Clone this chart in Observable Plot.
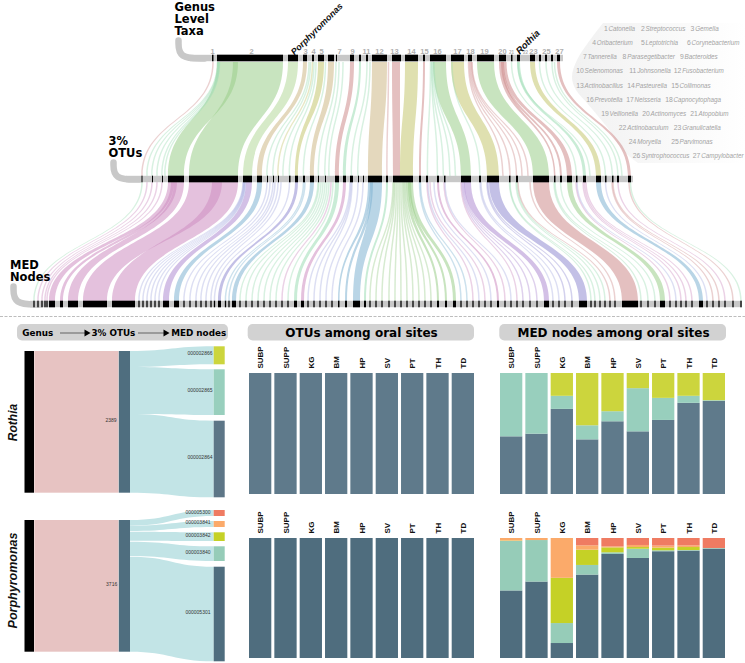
<!DOCTYPE html>
<html><head><meta charset="utf-8">
<style>html,body{margin:0;padding:0;background:#fff}#c{position:relative;width:745px;height:663px;overflow:hidden}</style>
<script src="https://cdn.jsdelivr.net/npm/d3@7"></script>
<script src="https://cdn.jsdelivr.net/npm/@observablehq/plot@0.6"></script>
</head><body><div id="c"></div>
<script>
// ---- oral-site composition (percent of each site) ----
const sites = ["SUBP","SUPP","KG","BM","HP","SV","PT","TH","TD"];
const rothiaNodes = ["000002864","000002865","000002866"];
const rothia864 = [47.8,50,70.4,45.3,60.2,51.9,61.3,75.4,77];
const rothia865 = [52.2,50,10.8,11.6,8.3,35.6,18.2,5.8,0.6];
const rothia866 = [0,0,18.8,43.1,31.5,12.5,20.5,18.8,22.4];
const porphNodes = ["000005301","000003840","000003842","000003841","000005300"];
const porph301 = [56.4,63.8,12.7,69.6,86.7,83.4,89,89.5,91.2];
const porph840 = [41.2,34.5,16.6,8,1.4,7.7,0.8,0.5,0.5];
const porph842 = [0.3,0,37.6,12.7,4.1,1.4,2.2,2.5,0];
const porph841 = [2.1,1.7,33.1,3.6,0.8,1.7,1.7,1.4,0];
const porph300 = [0,0,0,6.1,7,5.8,6.3,6.1,8.3];

// ---- taxa key ----
const taxa = ["Catonella","Streptococcus","Gemella","Oribacterium","Leptotrichia","Corynebacterium","Tannerella","Parasegetibacter","Bacteroides","Selenomonas","Johnsonella","Fusobacterium","Actinobacillus","Pasteurella","Collimonas","Prevotella","Neisseria","Capnocytophaga","Veillonella","Actinomyces","Atopobium","Actinobaculum","Granulicatella","Moryella","Parvimonas","Syntrophococcus","Campylobacter"];
const taxaCol = [608,645,694.7,596.3,645,691,587,626.7,684,584,636.7,681.7,584,635,679,594,634,673,609,650,698,626.7,681.7,636.7,679,640.7,700.7];
const taxaRow = [28,28,28,42,42,42,56,56,56,70,70,70,85,85,85,99,99,99,113,113,113,127,127,141,141,155,155];
const genusLabels = [1,2,3,4,5,7,9,11,12,13,14,15,16,17,18,19,20,23,25,27];
const genusLabelAt = [212,251,305,313,321,339,352,366,379,394,411,424,437,457,470,484,502,533,546,559];

// ---- extents along each flow axis ----
const genusBars = [[212,213.5],[217,283],[288,298],[303,307],[312,314],[318,324],[328,334],[336,337],[350,354],[359,361],[366,368],[372,387],[392,401],[405,418],[423,425],[430,446],[451,464],[468,472],[477,494],[499,506],[511,512.5],[517,520],[530,535],[539,541],[545,547],[551,553],[557,560]];
const otuBars = [[141.5,142.5],[152,153],[162,163],[168,184],[189,238],[243,252],[257,262],[267,268],[273,274],[278,279],[289,290.5],[295,298],[303,305],[310,314],[318,319],[325,326],[335,339],[343,346],[350,353],[358,359],[363,364],[368,382],[386,388],[393,413],[419,421],[426,428],[437,439],[444,445.5],[461,471],[479,481],[487,499],[509,510.5],[516,518],[533,549],[554,555.5],[560,562],[567,572],[576,577.5],[583,586],[596,601],[605,606.5],[612,613.5],[617,619],[628,631]];

const G="#9bce8b",g="#9ddcb4",y="#c5c66f",t="#ceb887",r="#ce8c8c",m="#ce8ec1",p="#af8cd1",q="#928cd1",b="#80b3d1",l="#a9b0e2";

// wide flows: top-from, top-to, bottom-from, bottom-to, colour
const genusWide = [[217,238,168,184,G],[233,283,189,238,G],[288,298,243,252,"#b5d99b"],[303,307,257,262,t],[318,324,295,298,y],[328,334,310,314,t],[350,354,335,339,r],[359,361,343,346,g],[372,387,368,382,t],[392,400,393,400,r],[405,418,400,413,y],[423,425,419,421,r],[433,446,461,471,G],[451,464,487,499,y],[477,494,533,549,G],[503,506.5,567,572,r],[499,503,554,555.5,r],[501,504,560,562,r],[517,520,583,586,g],[530,535,596,601,y],[557,560,628,631,r]];
// thin flows: top, bottom, colour
const genusThin = [[213,142,r],[217.5,147,g],[218,152,g],[218.5,157,g],[219,162,g],[219.5,165,g],[309,267,g],[310.5,273,g],[312.5,278,y],[314,283,g],[316,289.5,g],[325.5,303.5,g],[336,318.5,g],[339,325,g],[343,329,g],[367,351.5,g],[370,358,g],[388.5,387,r],[430.5,427.5,g],[431.5,437.5,g],[432,443.5,g],[433,450,g],[434,455.5,g],[452,480,g],[468.5,503,r],[469.5,510,r],[470.5,516.5,r],[471.5,522,r],[472,528,r],[511.5,576.5,g],[518,590,g],[539.5,605.5,g],[546,612.5,g],[552,618,g],[554.5,622,g]];

const otuWide = [[168,174,49,55,m],[171,177,60,63,m],[174,184,68,78,m],[189,222,83,107,m],[212,238,112,135,m],[246,252,163,169,p],[257,262,174,179,b],[295,298,218,221,q],[310,314,232,236,b],[335,339,294,297,g],[343,346,301,304,m],[368,371,338,339.5,b],[370,373,345,347,b],[371,382,353,360,b],[386,388,364,366,g],[406,409,437,439,G],[408,411,445,447,G],[409,413,453,456,G],[437,439,497,499,m],[464,471,544,549,p],[489,499,579,587,q],[533,549,622,638,r],[567,572,660,665,G],[596,601,699,703,b]];
const otuThin = [[142,34,g],[147,38,m],[152,42,m],[157,45,m],[162,47,m],[243,139,l],[243.5,143,l],[244,147,l],[244.5,151,l],[245,155,l],[245.5,159,l],[267,184,l],[270,190,l],[273,196,l],[275,201,l],[278,206,l],[281,211,l],[289.5,214.5,l],[303.5,225.5,b],[305,229,b],[318,240,g],[319,246,g],[321,252,g],[323,258,g],[325,264,g],[327,270,g],[329,276,g],[331,282,m],[333,288,g],[350,308,l],[351,314,l],[352,320,l],[358,326,l],[363,332,l],[393,370,G],[394,376,G],[395,382,G],[396.5,389,G],[398,395,G],[399.5,401,G],[401,407,G],[402.5,413,G],[403.5,419,G],[404.5,425,G],[405.5,431,G],[419.5,461,b],[420.5,467,b],[427,473,m],[428,479,l],[430,485,m],[434,491,l],[444,505,m],[445,511,l],[461,517,m],[462,523,p],[463,530,p],[464,537,p],[480,553,l],[481,559,l],[487,565,q],[488,572,q],[509.5,591,g],[510,595,g],[516,600,g],[517,605,g],[518,610,r],[530,615,r],[554,641,g],[555,648,g],[560.5,655,g],[576,670,m],[577,676,l],[583,681,m],[584.5,686,m],[586,692,m],[605.5,707,l],[612,713,r],[613,719,r],[618,725,m],[629,733,r],[630.5,741,g]];

// ---- genus / OTU / node flows of the two example genera ----
const rothiaLeft = [[351,367],[367,414],[414,492.7]];
const rothiaRight = [[346.3,364.3],[369.3,415],[420.7,497.3]];
const rothiaFill = ["#ccd53d","#98cfbd","#5d7687"];
const porphLeft = [[520,525.7],[525.7,531],[531.7,540.7],[541.7,556],[556.7,651.7]];
const porphRight = [[510,516],[521,527],[532.3,541],[546.3,561],[566.7,661.3]];
const porphFill = ["#ef7b62","#fbaa6a","#c5d126","#96ccb8","#4f6d7e"];
const rothiaNames = [["000002866",353],["000002865",390],["000002864",457]];
const porphNames = [["000005300",511.7],["000003841",522.3],["000003842",535],["000003840",552],["000005301",612]];

// ---- build tables ----
function wideRows(wide, thin, y0, y1){
  const rows=[];
  wide.forEach((d,i)=>{rows.push({id:"w"+i,a:d[0],b:d[1],y:y0,c:d[4],o:.55});rows.push({id:"w"+i,a:d[2],b:d[3],y:y1,c:d[4],o:.55});});
  thin.forEach((d,i)=>{rows.push({id:"t"+i,a:d[0]-.75,b:d[0]+.75,y:y0,c:d[2],o:.4});rows.push({id:"t"+i,a:d[1]-.75,b:d[1]+.75,y:y1,c:d[2],o:.4});});
  return rows;
}
const topRows = wideRows(genusWide,genusThin,62,176);
const midRows = wideRows(otuWide,otuThin,182,301);
const nodeBars = otuWide.map(d=>[d[2],d[3]]).concat(otuThin.map(d=>[d[1]-.65,d[1]+.65]));
function sankeyRows(L,R){
  const rows=[];
  L.forEach((d,i)=>{rows.push({id:i,x:130,a:d[0],b:d[1]});rows.push({id:i,x:213.7,a:R[i][0],b:R[i][1]});});
  return rows;
}
const rects=[];
rothiaRight.forEach((d,i)=>rects.push({x1:213.7,x2:224.7,y1:d[0],y2:d[1],f:rothiaFill[i]}));
porphRight.forEach((d,i)=>rects.push({x1:213.7,x2:224.7,y1:d[0],y2:d[1],f:porphFill[i]}));
[[351,492.7],[520,651.7]].forEach(d=>{
  rects.push({x1:24.5,x2:34,y1:d[0],y2:d[1],f:"#000"});
  rects.push({x1:34.3,x2:118.5,y1:d[0],y2:d[1],f:"#e7c3c2"});
  rects.push({x1:118.8,x2:130,y1:d[0],y2:d[1],f:"#4f6e7f"});
});
const bands=[{x1:190,x2:563,y:58},{x1:126,x2:633,y:179},{x1:30,x2:742,y:304}];
const hooks=[{x:178,t:40,y:58},{x:113,t:162,y:179},{x:13,t:286,y:304}];
const barTable=(arr,yy)=>arr.map(d=>({x1:d[0],x2:d[1],y1:yy-3.3,y2:yy+3.3}));
const pills=[{x1:17,x2:228},{x1:247.7,x2:474},{x1:499.3,x2:726}];
const legendEdge=[[603,23],[590,40],[577,60],[572,77],[576,90],[587,103],[607,127],[630,157],[638,163]];
const heavy={fontFamily:"DejaVu Sans",fontWeight:"bold",textAnchor:"start",fill:"#000"};
const heads=[
 {s:"Genus",x:174,y:7},{s:"Level",x:174,y:19},{s:"Taxa",x:174,y:31},
 {s:"3%",x:108,y:141},{s:"OTUs",x:108,y:152.5},
 {s:"MED",x:9.5,y:265},{s:"Nodes",x:9.5,y:277}];
const pillText=[{s:"Genus",x:21.7},{s:"3% OTUs",x:91},{s:"MED nodes",x:170.7}];
const pillArrows=[{x1:60,x2:86},{x1:138,x2:165}];

const main = Plot.plot({
  width:745,height:663,margin:0,
  x:{domain:[0,745],range:[0,745],axis:null},
  y:{domain:[0,663],range:[0,663],axis:null},
  color:{type:"identity"},
  style:{position:"absolute",left:"0",top:"0",fontFamily:"Liberation Sans",background:"transparent"},
  marks:[
    () => {const s=d3.create("svg:defs");const g=s.append("linearGradient").attr("id","fade");g.append("stop").attr("offset","0").attr("stop-color","#f1f1f1");g.append("stop").attr("offset","1").attr("stop-color","#ffffff");return s.node();},
    Plot.areaX(legendEdge,{x1:d=>d[0],x2:()=>745,y:d=>d[1],fill:"url(#fade)",curve:"monotone-y"}),
    Plot.text(taxa,{x:(d,i)=>taxaCol[i]-.8,y:(d,i)=>taxaRow[i],text:(d,i)=>String(i+1),textAnchor:"end",fontSize:6.8,fill:"#a3a3a3"}),
    Plot.text(taxa,{x:(d,i)=>taxaCol[i],y:(d,i)=>taxaRow[i],text:d=>d,textAnchor:"start",fontSize:6.3,fontStyle:"italic",fill:"#a3a3a3"}),

    Plot.areaX(topRows,{x1:"a",x2:"b",y:"y",z:"id",fill:"c",fillOpacity:"o",curve:"bump-y"}),
    Plot.areaX(midRows,{x1:"a",x2:"b",y:"y",z:"id",fill:"c",fillOpacity:"o",curve:"bump-y"}),
    ...hooks.map(h=>Plot.line([[h.x,h.t],[h.x,h.t],[h.x,h.t],[h.x,h.y],[h.x+26,h.y],[h.x+26,h.y],[h.x+26,h.y]],{curve:"basis",stroke:"#c8c8c8",strokeWidth:6.5})),
    Plot.rect(bands,{x1:"x1",x2:"x2",y1:d=>d.y-3.2,y2:d=>d.y+3.2,fill:"#c8c8c8"}),
    Plot.rect(barTable(genusBars,58),{x1:"x1",x2:"x2",y1:"y1",y2:"y2",fill:"#000"}),
    Plot.rect(barTable(otuBars,179),{x1:"x1",x2:"x2",y1:"y1",y2:"y2",fill:"#000"}),
    Plot.rect(barTable(nodeBars,304),{x1:"x1",x2:"x2",y1:"y1",y2:"y2",fill:"#000"}),

    Plot.text(genusLabels,{x:(d,i)=>genusLabelAt[i],y:()=>51,text:d=>String(d),fontSize:7.5,fontWeight:"bold",fill:"#b0b0b0"}),
    Plot.text(["21","22"],{x:[511,525],y:()=>52,text:d=>d,fontSize:4.5,fontWeight:"bold",fill:"#b0b0b0"}),
    Plot.text(["Porphyromonas"],{x:()=>292,y:()=>53,text:d=>d,rotate:-45,textAnchor:"start",fontSize:9,fontStyle:"italic",fontWeight:"bold",fill:"#111"}),
    Plot.text(["Rothia"],{x:()=>517,y:()=>52,text:d=>d,rotate:-45,textAnchor:"start",fontSize:9.5,fontStyle:"italic",fontWeight:"bold",fill:"#111"}),
    Plot.text(heads,{x:"x",y:"y",text:"s",fontSize:11.5,...heavy}),

    Plot.ruleY([316],{x1:0,x2:745,stroke:"#bdbdbd",strokeWidth:1,strokeDasharray:"3 1.5"}),

    Plot.rect(pills,{x1:"x1",x2:"x2",y1:()=>324,y2:()=>340.5,fill:"#d2d2d2",rx:5}),
    Plot.text(pillText,{x:"x",y:()=>332.5,text:"s",fontSize:8.8,...heavy}),
    Plot.ruleY(pillArrows,{x1:"x1",x2:"x2",y:()=>332.5,stroke:"#333",strokeWidth:.7}),
    Plot.dot(pillArrows,{x:"x2",y:()=>332.5,symbol:"triangle",r:2.6,rotate:90,fill:"#000",stroke:null}),
    Plot.text(["OTUs among oral sites"],{x:()=>361,y:()=>332.5,text:d=>d,fontSize:12,...heavy,textAnchor:"middle"}),
    Plot.text(["MED nodes among oral sites"],{x:()=>613,y:()=>332.5,text:d=>d,fontSize:12,...heavy,textAnchor:"middle"}),

    Plot.areaY(sankeyRows(rothiaLeft,rothiaRight),{x:"x",y1:"a",y2:"b",z:"id",fill:"#c2e4e6",curve:"bump-x"}),
    Plot.areaY(sankeyRows(porphLeft,porphRight),{x:"x",y1:"a",y2:"b",z:"id",fill:"#c2e4e6",curve:"bump-x"}),
    Plot.rect(rects,{x1:"x1",x2:"x2",y1:"y1",y2:"y2",fill:"f"}),
    Plot.text(rothiaNames,{x:()=>212,y:d=>d[1],text:d=>d[0],textAnchor:"end",fontSize:5,fill:"#333"}),
    Plot.text(porphNames,{x:()=>210,y:d=>d[1],text:d=>d[0],textAnchor:"end",fontSize:5,fill:"#333"}),
    Plot.text([["2389",116,420],["3716",116.7,584]],{x:d=>d[1],y:d=>d[2],text:d=>d[0],textAnchor:"end",fontSize:5,fill:"#333"}),
    Plot.text([["Rothia",422,12],["Porphyromonas",580,12.5]],{x:()=>12.7,y:d=>d[1],text:d=>d[0],rotate:-90,fontSize:d=>d[2],fontWeight:"bold",fontStyle:"italic",fill:"#111"})
  ]
});
document.getElementById("c").appendChild(main);

// ---- stacked bars, one panel per example genus ----
function panel(left,top,h,names,series,colors){
  const rows=[];
  series.forEach((vals,k)=>vals.forEach((v,i)=>rows.push({site:sites[i],node:names[k],v})));
  const svg=Plot.plot({
    width:225+8,height:h+30,marginLeft:4,marginRight:4,marginTop:30,marginBottom:0,
    x:{domain:sites,paddingInner:.12,paddingOuter:0,round:false,axis:null},
    y:{domain:[0,100],axis:null},
    color:{domain:names,range:colors},
    style:{position:"absolute",left:(left-4)+"px",top:(top-30)+"px",fontFamily:"Liberation Sans",background:"transparent"},
    marks:[
      Plot.barY(rows,{x:"site",y:"v",fill:"node",order:null}),
      Plot.axisX({anchor:"top",tickSize:0,tickPadding:5,tickRotate:-90,fontSize:8,fontWeight:"bold",fill:"#111",label:null})
    ]
  });
  document.getElementById("c").appendChild(svg);
}
panel(249,372.7,121.3,["otu"],[sites.map(()=>100)],["#5f7a8b"]);
panel(500,372.7,121.3,rothiaNodes,[rothia864,rothia865,rothia866],["#5f7a8b","#98cfbd","#ccd53d"]);
panel(249,537.7,120.3,["otu"],[sites.map(()=>100)],["#4f6d7e"]);
panel(500,537.7,120.3,porphNodes,[porph301,porph840,porph842,porph841,porph300],["#4f6d7e","#96ccb8","#c5d126","#fbaa6a","#ef7b62"]);
</script></body></html>
